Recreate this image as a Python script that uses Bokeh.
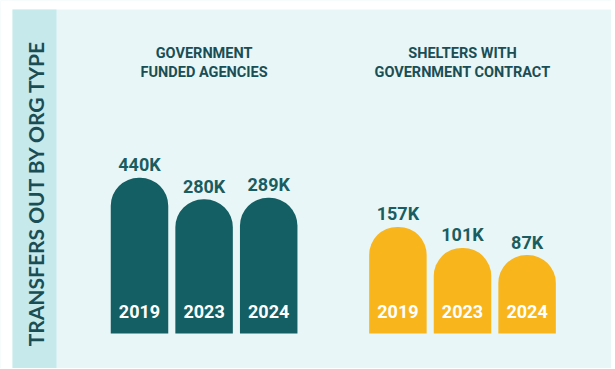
import math
from bokeh.plotting import figure
from bokeh.models import Range1d, BoxAnnotation
from bokeh.core.properties import value
from bokeh.embed import file_html
from bokeh.resources import INLINE

# ---------------- data ----------------
chart_title = "TRANSFERS OUT BY ORG TYPE"
groups = ["GOVERNMENT\nFUNDED AGENCIES", "SHELTERS WITH\nGOVERNMENT CONTRACT"]
years = ["2019", "2023", "2024"]
gov_funded = [440, 280, 289]       # thousands of transfers
shelters = [157, 101, 87]          # thousands of transfers
series = [gov_funded, shelters]

# ---------------- style ----------------
STRIP = "#c6e9ec"
PANEL = "#e8f6f7"
TEAL = "#135f63"
ORANGE = "#f9b51c"
DARK = "#1a4e54"
LABEL = "#1a5d61"
group_colors = [TEAL, ORANGE]

W, H = 611, 368          # figure size; figure sits at page (0, 0)
OX, OY = 0, 0
PITCH = 64.6             # px per bar slot
X0 = 139.0               # page x of first bar centre
A, B = 467.6, 47.7       # page_y = A - B*ln(v)  (log value scale)

x_start = (OX - X0) / PITCH
x_end = (OX + W - X0) / PITCH
y_start = math.exp((A - (OY + H)) / B)
y_end = math.exp((A - OY) / B)
baseline = math.exp((A - 333) / B)


def px(page_x):
    return (page_x - X0) / PITCH


def py(page_y):
    return math.exp((A - page_y) / B)


p = figure(width=W, height=H, x_range=Range1d(x_start, x_end),
           y_range=Range1d(y_start, y_end), y_axis_type="log",
           output_backend="svg", toolbar_location=None, min_border=0,
           x_axis_location=None, y_axis_location=None,
           outline_line_color=None, background_fill_color=PANEL,
           border_fill_color="white")
p.grid.visible = False

# background pieces
p.add_layout(BoxAnnotation(right=px(12), fill_color="white", fill_alpha=1,
                           line_color=None, level="underlay"))
p.add_layout(BoxAnnotation(bottom=py(9), fill_color="white", fill_alpha=1,
                           line_color=None, level="underlay"))
p.add_layout(BoxAnnotation(left=px(12), right=px(56), bottom=None, top=py(9),
                           fill_color=STRIP, fill_alpha=1, line_color=None,
                           level="underlay"))

font = value("Roboto")
n = len(years)
for g, vals in enumerate(series):
    xs = [g * (n + 1) + i for i in range(n)]
    p.vbar(x=xs, width=0.89, bottom=baseline, top=vals,
           fill_color=group_colors[g], line_color=None,
           border_radius=(28, 28, 0, 0))
    p.text(x=xs, y=vals, text=[f"{v}K" for v in vals], text_align="center",
           text_baseline="alphabetic", y_offset=-13, text_font=font,
           text_font_style="bold", text_font_size="18px", text_color=LABEL)
    p.text(x=xs, y=[baseline] * n, text=years, text_align="center",
           text_baseline="alphabetic", y_offset=-22, text_font=font,
           text_font_style="bold", text_font_size="18px", text_color="white")
    mid = sum(xs) / n
    for j, line in enumerate(groups[g].split("\n")):
        p.text(x=[mid], y=[y_end], text=[line], text_align="center",
               text_baseline="alphabetic", y_offset=52.7 + 19 * j,
               text_font=font, text_font_style="bold",
               text_font_size="14.5px", text_color=DARK)

p.text(x=[px(35)], y=[py(192.5)], text=[chart_title], angle=math.pi / 2,
       text_align="center", text_baseline="middle", text_font=value("Lato"),
       text_font_style="bold", text_font_size="21px", text_color=DARK)

open("out.html", "w").write(file_html(p, INLINE))
